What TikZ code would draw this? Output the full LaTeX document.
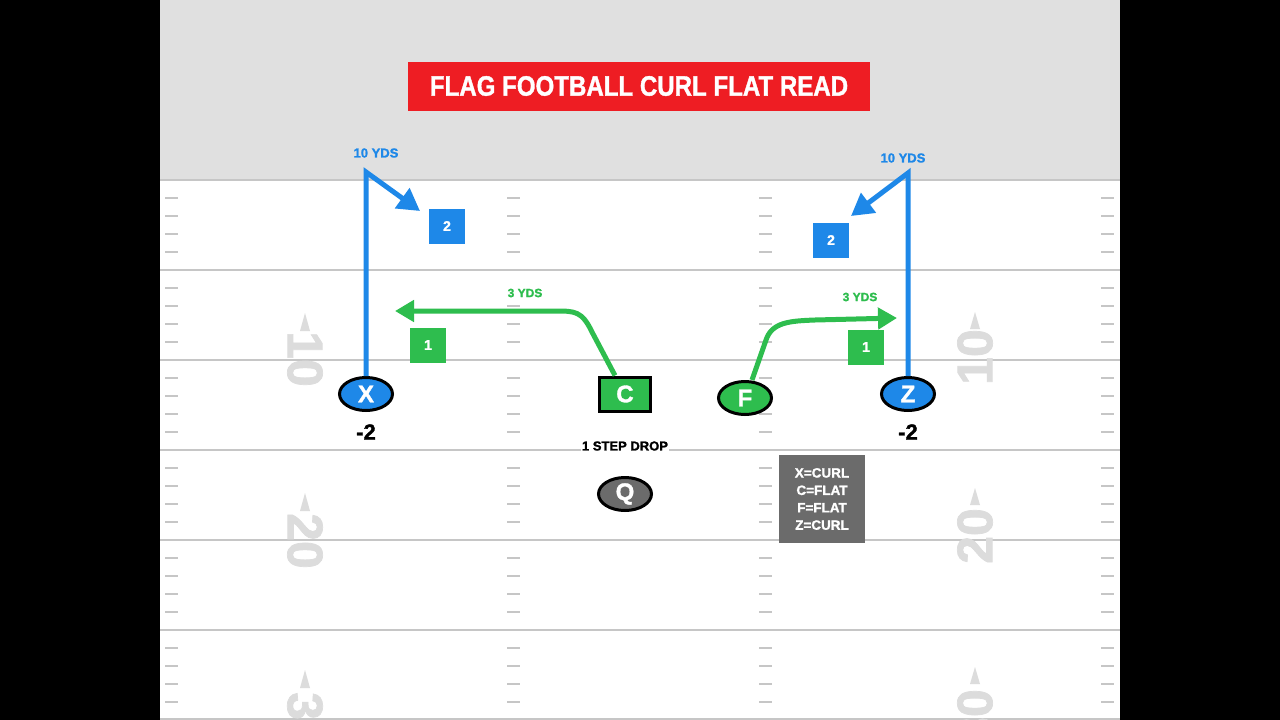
\documentclass[tikz,border=0pt]{standalone}
\usepackage{fontspec}
\setmainfont{Liberation Sans}[BoldFeatures={FakeBold=1.4}]
\usetikzlibrary{shapes.geometric,arrows.meta}
\definecolor{routeblue}{HTML}{1E88E8}
\definecolor{routegreen}{HTML}{2EBD4E}
\definecolor{titlered}{HTML}{EE1D23}
\definecolor{skygray}{HTML}{E0E0E0}
\definecolor{chalk}{HTML}{C6C6C6}
\definecolor{numgray}{HTML}{DCDCDC}
\definecolor{qbgray}{HTML}{6B6B6B}

\begin{document}
\begin{tikzpicture}[x=1pt,y=-1pt,
	player/.style={ellipse,draw=black,line width=3pt,minimum width=53pt,minimum height=33pt,inner sep=0pt,text=white,font=\fontsize{24}{24}\selectfont\bfseries},
	centerbox/.style={rectangle,draw=black,line width=3pt,fill=routegreen,minimum width=51pt,minimum height=34pt,inner sep=0pt,text=white,font=\fontsize{24}{24}\selectfont\bfseries},
	numbox/.style={rectangle,minimum width=36pt,minimum height=35pt,inner sep=0pt,text=white,font=\fontsize{14}{14}\selectfont\bfseries},
	yds/.style={fill=white,inner sep=3pt,font=\fontsize{13}{13}\selectfont\bfseries},
	depth/.style={font=\fontsize{22}{22}\selectfont\bfseries},
	yardnum/.style={text=numgray,font=\fontsize{50}{50}\selectfont\bfseries,inner sep=0pt},
	bluerun/.style={routeblue,line width=5pt,-{Triangle[length=22pt,width=24pt]}},
	greenrun/.style={routegreen,line width=5pt,-{Triangle[length=19pt,width=21pt]}},
	]
	\fill[black] (0,0) rectangle (1280,720);
	\fill[white] (160,0) rectangle (1120,720);
	\fill[skygray] (160,0) rectangle (1120,180);
	\begin{scope}
		\clip (160,0) rectangle (1120,720);
		\foreach \y in {180,270,...,630} {
			\draw[chalk,line width=2pt] (160,\y) -- (1120,\y);
			\foreach \d in {18,36,54,72}
				\foreach \x in {165,507,759,1101}
					\draw[chalk,line width=2pt] (\x,\y+\d) -- ++(13,0);
		}
		\draw[chalk,line width=2pt] (160,719) -- (1120,719);
		\foreach \n/\y/\t in {10/359/313,20/541/493,30/720/670} {
			\node[yardnum,rotate=-90] (left\n) at (305,\y) {\n};
			\fill[numgray] (300,\t+18) -- (305,\t) -- (310,\t+18) -- cycle;
		}
		\foreach \n/\y/\t in {10/357/312,20/536/488,30/717/667} {
			\node[yardnum,rotate=90] (right\n) at (975,\y) {\n};
			\fill[numgray] (970,\t+17) -- (975,\t) -- (980,\t+17) -- cycle;
		}
	\end{scope}

	\node[fill=titlered,minimum width=462pt,minimum height=49pt,text=white,font=\fontsize{28}{28}\selectfont\bfseries] (title) at (639,86) {\scalebox{0.86}[1]{FLAG FOOTBALL CURL FLAT READ}};

	\node[player,fill=routeblue] (X) at (366,394) {X};
	\node[player,fill=routeblue] (Z) at (908,394) {Z};
	\node[player,fill=routegreen] (F) at (745,398) {F};
	\node[player,fill=qbgray] (Q) at (625,494) {Q};
	\node[centerbox] (C) at (625,394) {C};

	\node[depth] (Xdepth) at (366,432) {-2};
	\node[depth] (Zdepth) at (908,432) {-2};
	\node[yds,inner sep=1pt] (drop) at (625,446) {1 STEP DROP};

	\node[numbox,fill=routeblue] (X2) at (447,226) {2};
	\node[numbox,fill=routeblue] (Z2) at (831,240) {2};
	\node[numbox,fill=routegreen] (C1) at (428,345) {1};
	\node[numbox,fill=routegreen] (F1) at (866,347) {1};

	\node[yds,text=routeblue,fill=none] (Xyds) at (376,153) {10 YDS};
	\node[yds,text=routeblue,fill=none] (Zyds) at (903,158) {10 YDS};
	\node[yds,text=routegreen,font=\fontsize{12}{12}\selectfont\bfseries] (Cyds) at (525,293) {3 YDS};
	\node[yds,text=routegreen,font=\fontsize{12}{12}\selectfont\bfseries] (Fyds) at (860,297) {3 YDS};

	\node[fill=qbgray,text=white,align=center,minimum width=86pt,minimum height=88pt,font=\fontsize{13.5}{17.4}\selectfont\bfseries] (key) at (822,499) {X=CURL\\C=FLAT\\F=FLAT\\Z=CURL};

	\coordinate (Xbreak) at (366,172);
	\coordinate (Xend) at (420,211);
	\coordinate (Zbreak) at (908,173);
	\coordinate (Zend) at (851,216);
	\coordinate (Cend) at (395,311);
	\coordinate (Fend) at (897,318);

	\draw[bluerun] (X.north) -- (Xbreak) -- (Xend);
	\draw[bluerun] (Z.north) -- (Zbreak) -- (Zend);
	\draw[greenrun] ([xshift=-10pt]C.north) -- (592,332) .. controls (582,311) and (575,311) .. (555,311) -- (Cend);
	\draw[greenrun] ([xshift=7pt]F.north) -- (766,340) .. controls (772,322) and (790,321) .. (815,320) -- (Fend);
\end{tikzpicture}
\end{document}
